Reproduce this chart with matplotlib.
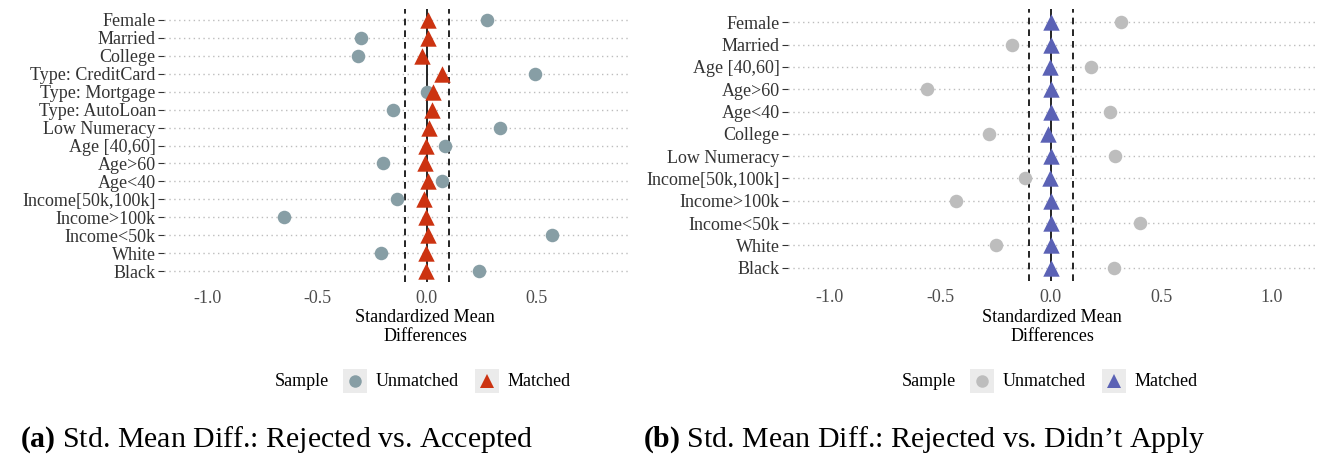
import numpy as np
import matplotlib.pyplot as plt
from matplotlib.lines import Line2D
from matplotlib.patches import Rectangle

plt.rcParams['font.family'] = ['Liberation Serif', 'DejaVu Serif']
plt.rcParams['mathtext.fontset'] = 'custom'
plt.rcParams['mathtext.rm'] = 'Liberation Serif'
plt.rcParams['mathtext.bf'] = 'Liberation Serif:bold'

# panel (a): rejected vs accepted
vars_a = ['Female', 'Married', 'College', 'Type: CreditCard', 'Type: Mortgage',
          'Type: AutoLoan', 'Low Numeracy', 'Age [40,60]', 'Age>60', 'Age<40',
          'Income[50k,100k]', 'Income>100k', 'Income<50k', 'White', 'Black']
unmatched_a = [0.275, -0.302, -0.315, 0.496, 0.0, -0.152, 0.333, 0.083, -0.198,
               0.069, -0.137, -0.654, 0.575, -0.208, 0.24]
matched_a = [0.008, 0.006, -0.023, 0.069, 0.031, 0.023, 0.012, -0.004, -0.006,
             0.004, -0.01, -0.004, 0.004, -0.004, -0.004]

# panel (b): rejected vs didn't apply
vars_b = ['Female', 'Married', 'Age [40,60]', 'Age>60', 'Age<40', 'College',
          'Low Numeracy', 'Income[50k,100k]', 'Income>100k', 'Income<50k',
          'White', 'Black']
unmatched_b = [0.32, -0.175, 0.184, -0.561, 0.266, -0.278, 0.289, -0.117,
               -0.427, 0.402, -0.25, 0.287]
matched_b = [0.0, 0.002, -0.002, 0.0, 0.002, -0.014, 0.002, -0.002, 0.0,
             0.002, 0.002, 0.0]

ticks = [-1.0, -0.5, 0.0, 0.5, 1.0]

W, H = 1324, 458
fig = plt.figure(figsize=(W / 100, H / 100), dpi=100)
FS = 13


def px(x, y):
    return x / W, 1 - y / H


def legend(cx, cy, c_unm, c_mat):
    fig.text(*px(cx - 150, cy), 'Sample', fontsize=FS, va='center', ha='left')
    for x0, lab, mk, col, ms in [(cx - 82, 'Unmatched', 'o', c_unm, 9),
                                 (cx + 50, 'Matched', '^', c_mat, 10)]:
        fig.patches.append(Rectangle(px(x0, cy + 12), 24 / W, 24 / H,
                                     transform=fig.transFigure,
                                     facecolor='#ebebeb', edgecolor='none'))
        fig.lines.append(Line2D([(x0 + 12) / W], [1 - cy / H], marker=mk,
                                color=col, markersize=ms, ls='',
                                markeredgewidth=0, transform=fig.transFigure))
        fig.text(*px(x0 + 33, cy), lab, fontsize=FS, va='center', ha='left')


def panel(rect, labels, unm, mat, c_unm, c_mat, xlim, cx, caption, cap_x):
    l, t, r, b = rect
    ax = fig.add_axes([l / W, 1 - b / H, (r - l) / W, (b - t) / H])
    n = len(labels)
    y = np.arange(n)[::-1]
    for yy in y:
        ax.axhline(yy, color='#bdbdbd', lw=1.0, ls=(0, (1, 2.5)), zorder=0)
    ax.axvline(0, color='black', lw=1.2, zorder=1)
    ax.axvline(-0.1, color='black', lw=1.2, ls=(0, (4, 3)), zorder=1)
    ax.axvline(0.1, color='black', lw=1.2, ls=(0, (4, 3)), zorder=1)
    ax.scatter(unm, y, s=95, marker='o', color=c_unm, lw=0, zorder=2)
    ax.scatter(mat, y, s=140, marker='^', color=c_mat, lw=0, zorder=3)
    ax.set_xlim(*xlim)
    ax.set_ylim(-0.6, n - 0.4)
    ax.set_yticks(y)
    ax.set_yticklabels(labels, fontsize=FS, color='#333333')
    shown = [tk for tk in ticks if xlim[0] <= tk <= xlim[1]]
    ax.set_xticks(shown)
    ax.set_xticklabels([f'{tk:.1f}' for tk in shown], fontsize=FS, color='#4d4d4d')
    ax.tick_params(axis='y', length=4, color='#333333', pad=2)
    ax.tick_params(axis='x', length=0, pad=6)
    for s in ax.spines.values():
        s.set_visible(False)
    ax.set_xlabel('Standardized Mean\nDifferences', fontsize=FS, linespacing=1.15)
    # axis title centred under the dot column, like the reference
    ax.xaxis.set_label_coords((cx - l) / (r - l), -(345 - b) / (b - t))
    ax.xaxis.label.set_va('bottom')

    legend(cx, 381, c_unm, c_mat)
    fig.text(*px(cap_x, 440), caption, fontsize=21.5, va='center', ha='left')
    return ax


panel((164, 9, 628, 282), vars_a, unmatched_a, matched_a, '#879ea5', '#cc3311',
      (-1.2, 0.92), 425, r'$\mathbf{(a)}$ Std. Mean Diff.: Rejected vs. Accepted', 20)
panel((788, 9, 1318, 281), vars_b, unmatched_b, matched_b, '#bdbdbd', '#5b62b5',
      (-1.19, 1.21), 1052, r"$\mathbf{(b)}$ Std. Mean Diff.: Rejected vs. Didn" + "\u2019t Apply", 643)

fig.savefig('out.png', dpi=100)
